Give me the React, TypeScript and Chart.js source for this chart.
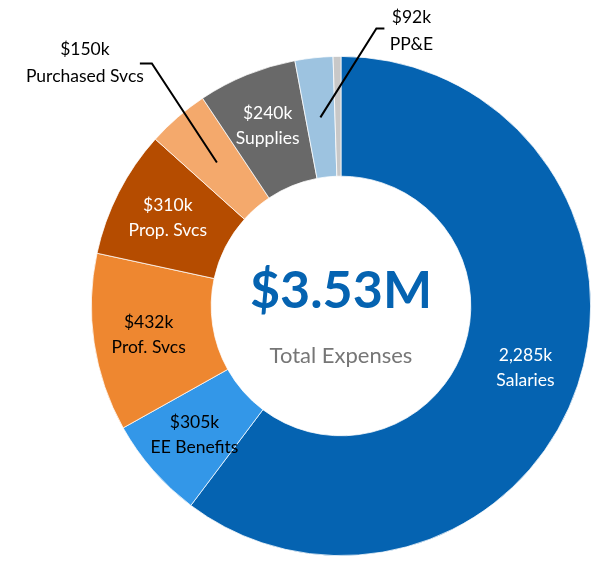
import React, { useEffect, useRef } from "react";
import { Chart, registerables } from "chart.js";

Chart.register(...registerables);

const categories = ["Salaries", "EE Benefits", "Prof. Svcs", "Prop. Svcs", "Purchased Svcs", "Supplies", "PP&E", "Other"];
const values = [2262, 248, 432, 310, 150, 240, 92, 19];
const amountLabels = ["2,285k", "$305k", "$432k", "$310k", "$150k", "$240k", "$92k", ""];
const colors = ["#0563B1", "#3397E8", "#EE8730", "#B54C00", "#F4A96C", "#696969", "#9DC3E0", "#C8C8C8"];
const textColors = ["#FFFFFF", "#000000", "#000000", "#FFFFFF", "#000000", "#FFFFFF", "#000000", "#000000"];
const inside = [true, true, true, true, false, true, false, false];
const totalLabel = "$3.53M";
const totalCaption = "Total Expenses";

const FONT = "Lato, 'Open Sans', sans-serif";

const labelPlugin = {
  id: "labelPlugin",
  afterDraw(chart: any) {
    const ctx = chart.ctx;
    const meta = chart.getDatasetMeta(0);
    const arcs = meta.data;
    if (!arcs.length) return;
    const cx = arcs[0].x;
    const cy = arcs[0].y;
    ctx.save();
    ctx.textAlign = "center";
    ctx.textBaseline = "middle";
    // center text
    ctx.fillStyle = "#0563B1";
    ctx.font = `bold 52px ${FONT}`;
    ctx.fillText(totalLabel, cx, cy - 15);
    ctx.fillStyle = "#767676";
    ctx.font = `22px ${FONT}`;
    ctx.fillText(totalCaption, cx, cy + 50);

    arcs.forEach((arc: any, i: number) => {
      const { startAngle, endAngle, innerRadius, outerRadius } = arc.getProps(["startAngle", "endAngle", "innerRadius", "outerRadius"], true);
      const mid = (startAngle + endAngle) / 2;
      ctx.font = `17.5px ${FONT}`;
      if (inside[i]) {
        const r = innerRadius + (outerRadius - innerRadius) * 0.54;
        const x = cx + Math.cos(mid) * r;
        const y = cy + Math.sin(mid) * r;
        ctx.fillStyle = textColors[i];
        ctx.fillText(amountLabels[i], x, y - 12);
        ctx.fillText(categories[i], x, y + 13);
      } else if (amountLabels[i]) {
        const r = (innerRadius + outerRadius) / 2;
        const x = cx + Math.cos(mid) * r;
        const y = cy + Math.sin(mid) * r;
        ctx.strokeStyle = "#000";
        ctx.lineWidth = 2;
        ctx.beginPath();
        if (i === 4) {
          ctx.moveTo(x, y);
          ctx.lineTo(x - 65, y - 99);
          ctx.lineTo(x - 77, y - 99);
          ctx.stroke();
          ctx.fillStyle = "#000";
          ctx.fillText(amountLabels[i], x - 132, y - 113);
          ctx.fillText(categories[i], x - 132, y - 86);
        } else {
          ctx.moveTo(x, y);
          ctx.lineTo(x + 56, y - 89);
          ctx.lineTo(x + 64, y - 89);
          ctx.stroke();
          ctx.fillStyle = "#000";
          ctx.fillText(amountLabels[i], x + 91, y - 100);
          ctx.fillText(categories[i], x + 91, y - 73);
        }
      }
    });
    ctx.restore();
  },
};

export default function App() {
  const ref = useRef<HTMLCanvasElement>(null);
  useEffect(() => {
    document.body.style.margin = "0";
    const chart = new Chart(ref.current as HTMLCanvasElement, {
      type: "doughnut",
      data: {
        labels: categories,
        datasets: [
          {
            data: values,
            backgroundColor: colors,
            borderColor: "#FFFFFF",
            borderWidth: 0.75,
          },
        ],
      },
      options: {
        responsive: false,
        animation: false,
        cutout: "52%",
        layout: { padding: { left: 91, right: 2, top: 56, bottom: 7 } },
        plugins: { legend: { display: false }, tooltip: { enabled: false } },
      },
      plugins: [labelPlugin],
    });
    return () => chart.destroy();
  }, []);
  return (
    <div style={{ width: 593, height: 563, background: "#fff" }}>
      <canvas ref={ref} width={593} height={563} />
    </div>
  );
}
